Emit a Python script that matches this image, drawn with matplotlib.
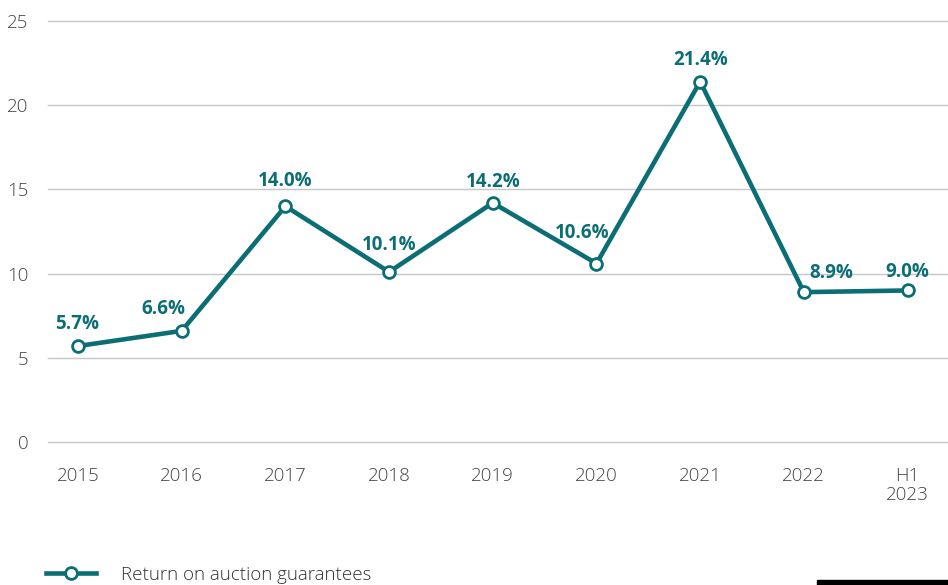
import matplotlib.pyplot as plt
from matplotlib.lines import Line2D

years = ['2015', '2016', '2017', '2018', '2019', '2020', '2021', '2022', 'H1\n2023']
returns = [5.7, 6.6, 14.0, 10.1, 14.2, 10.6, 21.4, 8.9, 9.0]
labels = ['5.7%', '6.6%', '14.0%', '10.1%', '14.2%', '10.6%', '21.4%', '8.9%', '9.0%']
yticks = [0, 5, 10, 15, 20, 25]

# label placement relative to each point, in pixels (dx, dy up)
lab_dx = [-1, -18, 0, 0, 0, -14, 0, 27, 0]
lab_dy = [22, 22, 25, 27, 21, 31, 22, 19, 18]

teal = '#0b6e75'
plt.rcParams['font.family'] = ['Open Sans', 'DejaVu Sans']

fig = plt.figure(figsize=(9.48, 5.85), dpi=100)
ax = fig.add_axes([0.0506, 0.2444, 0.9494, 0.7197])

x = list(range(len(years)))
ax.plot(x, returns, color=teal, lw=3.3, marker='o', ms=8.5, mfc='white',
        mec=teal, mew=2, zorder=3, solid_joinstyle='miter')
for xi, v, s, dx, dy in zip(x, returns, labels, lab_dx, lab_dy):
    ax.annotate(s, (xi, v), xytext=(dx * 0.72, dy * 0.72),
                textcoords='offset points', ha='center', va='center',
                fontsize=13.5, fontweight='bold', color=teal, zorder=4)

ax.set_ylim(0, 25)
ax.set_xlim(-0.29, 8.39)
ax.set_yticks(yticks)
ax.set_xticks(x)
ax.set_xticklabels(years)
ax.grid(axis='y', color='#c6c6c6', lw=1)
for gl in ax.get_ygridlines():
    gl.set_clip_on(False)
ax.set_axisbelow(True)
for sp in ax.spines.values():
    sp.set_visible(False)
ax.tick_params(length=0, labelsize=13.5, labelcolor='#444444')
ax.tick_params(axis='x', pad=18)
ax.tick_params(axis='y', pad=14)
for t in ax.get_xticklabels() + ax.get_yticklabels():
    t.set_fontweight('light')
for t in ax.get_xticklabels():
    t.set_verticalalignment('top')
    t.set_linespacing(1.05)

handle = Line2D([], [], color=teal, lw=3.3, marker='o', ms=8.5, mfc='white',
                mec=teal, mew=2)
leg = fig.legend([handle], ['Return on auction guarantees'], loc='lower left',
                 bbox_to_anchor=(0.031, -0.027), frameon=False, fontsize=13.5,
                 handlelength=2.65, handletextpad=1.35)
for t in leg.get_texts():
    t.set_fontweight('light')
    t.set_color('#333333')

fig.patches.append(plt.Rectangle((817 / 948, 0), 131 / 948, 5 / 585,
                                 transform=fig.transFigure, color='black'))

fig.savefig('out.png', dpi=100)
